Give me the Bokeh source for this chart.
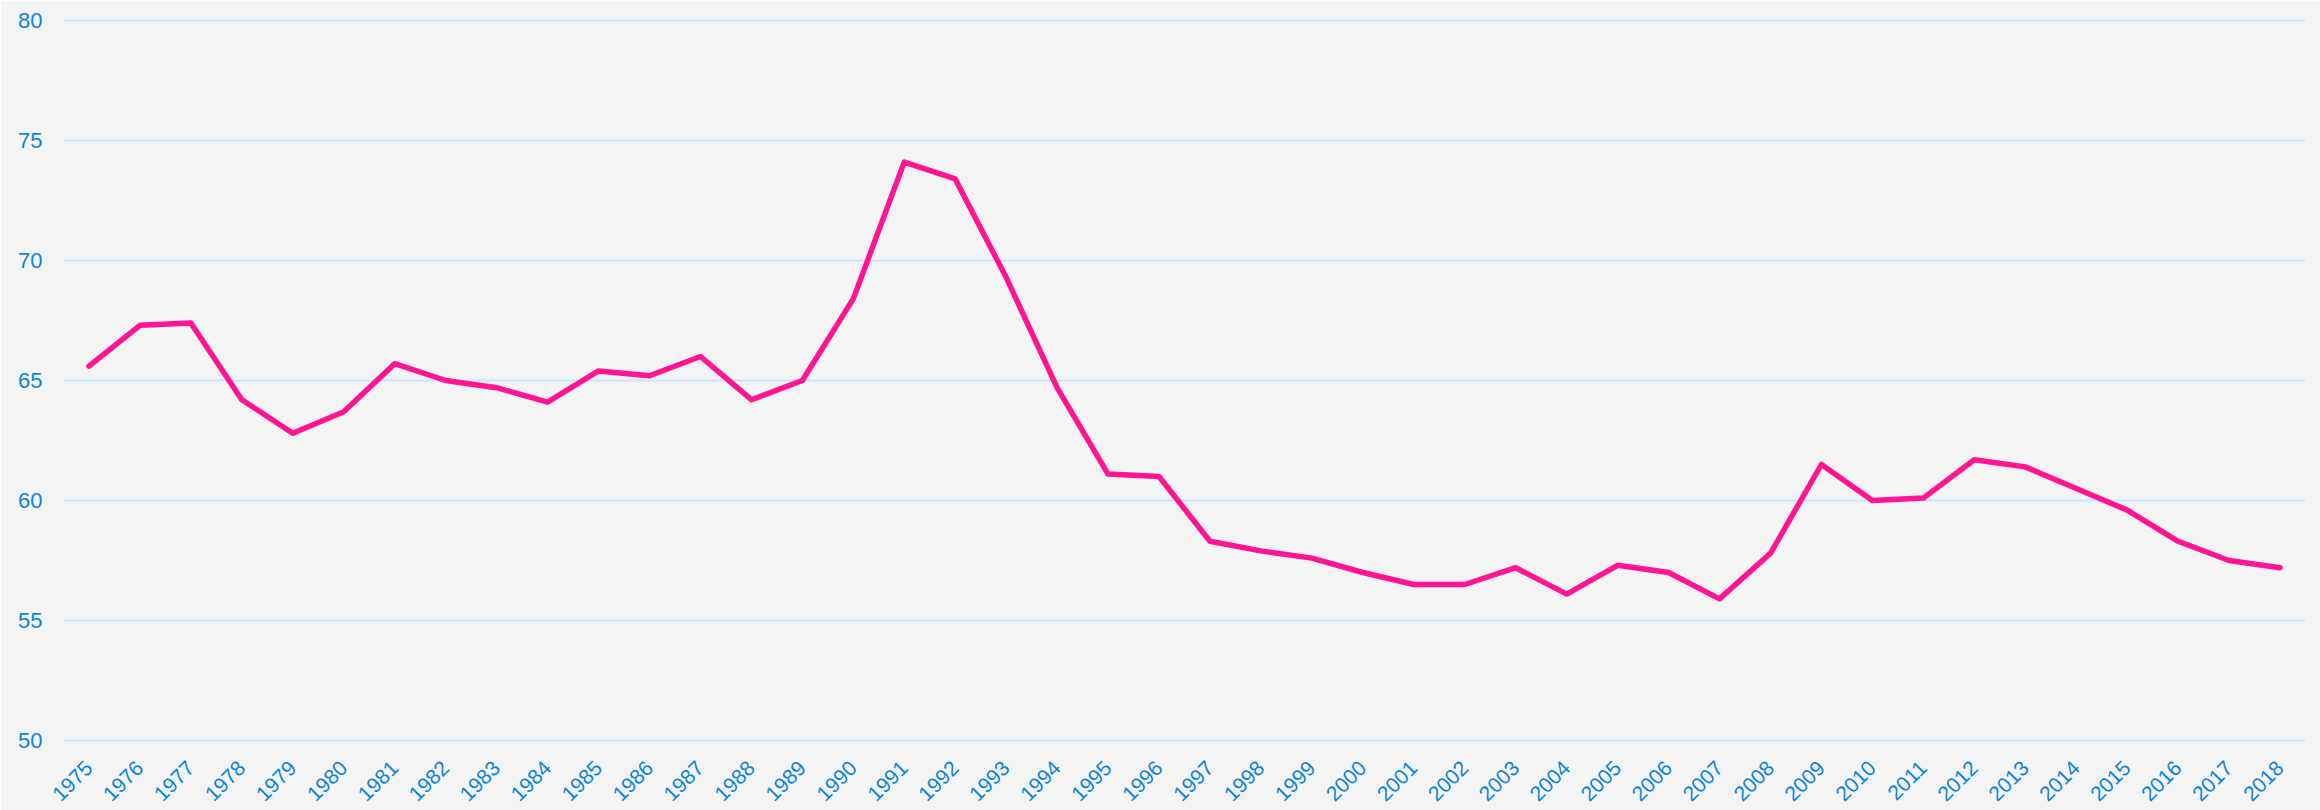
import math
from bokeh.plotting import figure
from bokeh.models import Range1d, FixedTicker, ColumnDataSource
from bokeh.embed import file_html
from bokeh.resources import INLINE

years = list(range(1975, 2019))
values = [65.6, 67.3, 67.4, 64.2, 62.8, 63.7, 65.7, 65.0, 64.7, 64.1,
          65.4, 65.2, 66.0, 64.2, 65.0, 68.4, 74.1, 73.4, 69.3, 64.7,
          61.1, 61.0, 58.3, 57.9, 57.6, 57.0, 56.5, 56.5, 57.2, 56.1,
          57.3, 57.0, 55.9, 57.8, 61.5, 60.0, 60.1, 61.7, 61.4, 60.5,
          59.6, 58.3, 57.5, 57.2]
y_ticks = [50, 55, 60, 65, 70, 75, 80]

BG = "#f4f4f4"
LABEL = "#0a84db"
GRID = "#c8e6ff"
LINE = "#ff1493"
FONT = "Liberation Sans"

src = ColumnDataSource(data=dict(year=years, value=values))

p = figure(width=2320, height=810, output_backend="svg", toolbar_location=None,
           x_range=Range1d(1974.5, 2018.5), y_range=Range1d(49.75, 80.25),
           min_border_left=63, min_border_right=15, min_border_top=14,
           min_border_bottom=64)
p.background_fill_color = BG
p.border_fill_color = BG
p.outline_line_color = None

p.line("year", "value", source=src, line_color=LINE, line_width=5.5,
       line_join="round", line_cap="round")

p.xgrid.grid_line_color = None
p.ygrid.grid_line_color = GRID
p.ygrid.grid_line_width = 2

p.yaxis.ticker = FixedTicker(ticks=y_ticks)
p.xaxis.ticker = FixedTicker(ticks=years)

for ax in (p.xaxis[0], p.yaxis[0]):
    ax.axis_line_color = None
    ax.major_tick_line_color = None
    ax.minor_tick_line_color = None
    ax.major_tick_out = 0
    ax.major_tick_in = 0
    ax.minor_tick_out = 0
    ax.major_label_text_color = LABEL
    ax.major_label_text_font = FONT

p.yaxis.major_label_text_font_size = "22px"
p.yaxis.major_label_standoff = 21
p.xaxis.major_label_text_font_size = "21px"
p.xaxis.major_label_orientation = math.pi / 4
p.xaxis.major_label_standoff = 18

html = file_html(p, INLINE)
html = html.replace("<body>", "<body style=\"background:#f4f4f4;\">", 1)
open("out.html", "w").write(html)
